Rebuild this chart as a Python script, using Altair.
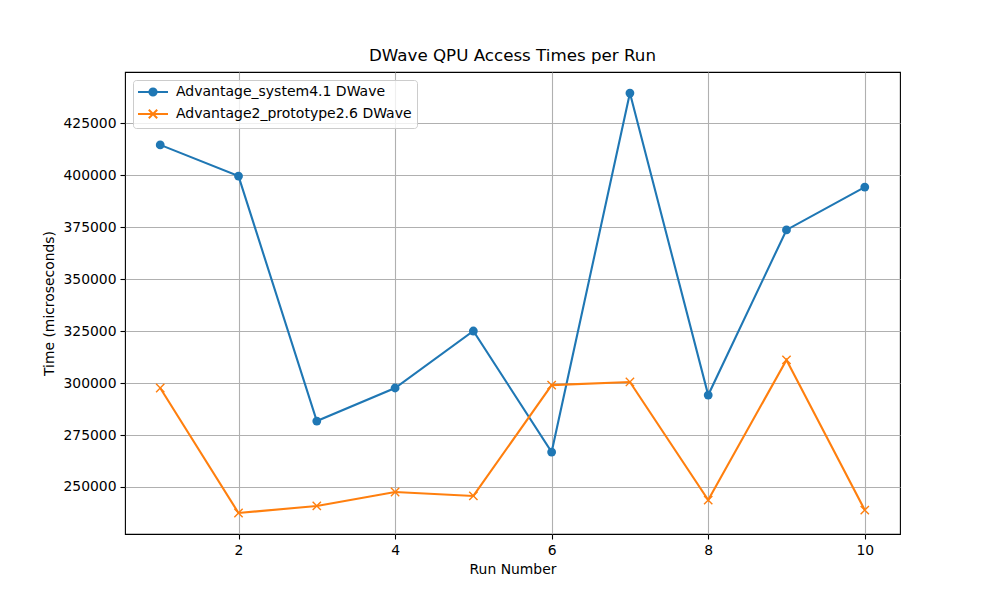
import altair as alt
import pandas as pd

runs = [1, 2, 3, 4, 5, 6, 7, 8, 9, 10]
adv41 = [414500, 399500, 281700, 297600, 325000, 266800, 439400, 294200, 373600, 394200]
adv26 = [297600, 237500, 240900, 247600, 245700, 299000, 300500, 243700, 311100, 238900]
series = ["Advantage_system4.1 DWave", "Advantage2_prototype2.6 DWave"]
colors = ["#1f77b4", "#ff7f0e"]
y_ticks = [250000, 275000, 300000, 325000, 350000, 375000, 400000, 425000]
x_ticks = [2, 4, 6, 8, 10]

rows = []
for r, a, b in zip(runs, adv41, adv26):
    rows.append({"run": r, "time": a, "series": series[0]})
    rows.append({"run": r, "time": b, "series": series[1]})
df = pd.DataFrame(rows)

FONT = "DejaVu Sans"

x_enc = alt.X(
    "run:Q",
    scale=alt.Scale(domain=[0.55, 10.45], nice=False, zero=False),
    axis=alt.Axis(values=x_ticks, title="Run Number", format="d"),
)
y_enc = alt.Y(
    "time:Q",
    scale=alt.Scale(domain=[227400, 449540], nice=False, zero=False),
    axis=alt.Axis(values=y_ticks, title="Time (microseconds)", format="d"),
)
color_scale = alt.Scale(domain=series, range=colors)

base = alt.Chart(df).encode(x=x_enc, y=y_enc)

lines = base.mark_line(strokeWidth=2.1).encode(
    color=alt.Color("series:N", scale=color_scale, legend=None),
    detail="series:N",
)

circles = base.transform_filter(alt.datum.series == series[0]).mark_point(
    shape="circle", filled=True, size=78, opacity=1
).encode(color=alt.Color("series:N", scale=color_scale, legend=None))

crosses = base.transform_filter(alt.datum.series == series[1]).mark_point(
    shape="M-1,-1L1,1M-1,1L1,-1", filled=False, size=69, strokeWidth=1.4, opacity=1
).encode(color=alt.Color("series:N", scale=color_scale, legend=None))

ring = "".join(
    f"M-{r},0A{r},{r} 0 1,0 {r},0A{r},{r} 0 1,0 -{r},0" for r in (0.6, 0.4, 0.2)
)
legend_shapes = [
    "M-2.5,0L2.5,0" + ring,
    "M-2.5,0L2.5,0M-0.7,-0.7L0.7,0.7M-0.7,0.7L0.7,-0.7",
]

legend_layer = base.mark_point(filled=False, opacity=0).encode(
    color=alt.Color(
        "series:N",
        scale=color_scale,
        legend=alt.Legend(
            title=None,
            orient="none",
            legendX=8,
            legendY=8,
            symbolSize=144,
            symbolStrokeWidth=2,
            symbolOpacity=1,
            symbolOffset=8,
            labelOffset=16,
            labelFont=FONT,
            labelFontSize=14,
            labelColor="#000000",
            rowPadding=5,
            padding=5,
            strokeColor="#cccccc",
            fillColor="rgba(255,255,255,0.8)",
            cornerRadius=3,
            labelLimit=400,
        ),
    ),
    shape=alt.Shape(
        "series:N",
        scale=alt.Scale(domain=series, range=legend_shapes),
    ),
)

chart = (
    alt.layer(legend_layer, lines, circles, crosses)
    .resolve_legend(color="independent", shape="independent")
    .properties(
        width=775,
        height=462,
        title=alt.TitleParams(
            "DWave QPU Access Times per Run",
            font=FONT,
            fontSize=16.7,
            fontWeight="normal",
            color="#000000",
            anchor="middle",
            offset=7,
        ),
        autosize=alt.AutoSizeParams(type="none"),
        padding={"left": 117, "top": 64, "right": 92, "bottom": 58},
    )
    .configure_view(stroke="#000000", strokeWidth=1.1)
    .configure_axis(
        labelFont=FONT,
        labelFontSize=13.9,
        labelColor="#000000",
        titleFont=FONT,
        titleFontSize=13.9,
        titleFontWeight="normal",
        titleColor="#000000",
        tickColor="#000000",
        tickSize=5,
        tickWidth=1.1,
        domain=False,
        grid=True,
        gridColor="#b0b0b0",
        gridWidth=1.1,
        labelPadding=4,
    )
    .configure_axisY(titlePadding=6)
    .configure_axisX(titlePadding=6)
)

chart.save("out.html", embed_options={"renderer": "svg", "actions": False})
